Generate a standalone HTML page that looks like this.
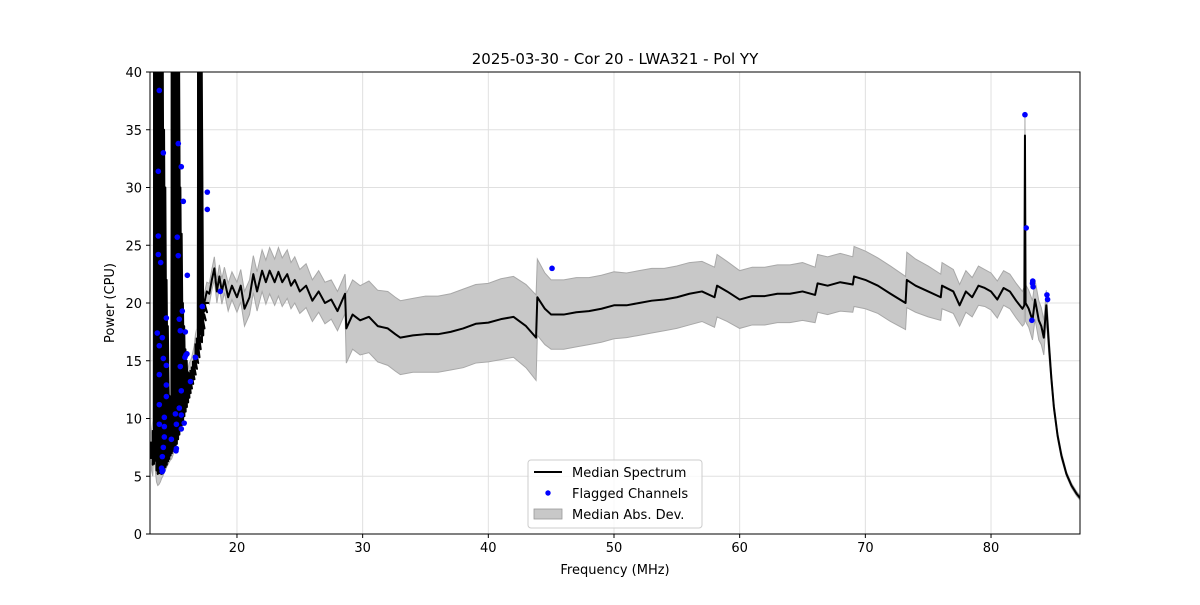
<!DOCTYPE html>
<html><head><meta charset="utf-8"><style>
body{margin:0;background:#fff;font-family:"Liberation Sans","DejaVu Sans",sans-serif;}
svg text{font-family:"DejaVu Sans","Liberation Sans",sans-serif;}
</style></head><body>
<svg id="chart" width="1200" height="600" xmlns="http://www.w3.org/2000/svg">
<rect width="1200" height="600" fill="#fff"/>
<defs><clipPath id="pc"><rect x="150" y="72" width="930" height="462"/></clipPath></defs>
<g id="grid"></g>
<g clip-path="url(#pc)"><g id="band"></g><g id="lines"></g><g id="pts"></g></g>
<rect x="150" y="72" width="930" height="462" fill="none" stroke="#000" stroke-width="1"/>
<g id="ticks"></g>
<text x="615" y="64" text-anchor="middle" font-size="15">2025-03-30 - Cor 20 - LWA321 - Pol YY</text>
<text x="615" y="574" text-anchor="middle" font-size="13">Frequency (MHz)</text>
<text x="114" y="303" text-anchor="middle" font-size="13" transform="rotate(-90 114 303)">Power (CPU)</text>
<g>
<rect x="528" y="460" width="174" height="68" rx="3" fill="#fff" fill-opacity="0.8" stroke="#ccc"/>
<line x1="534" y1="472" x2="562" y2="472" stroke="#000" stroke-width="2"/>
<text x="572" y="477" font-size="13">Median Spectrum</text>
<circle cx="548" cy="493" r="2.7" fill="#00f"/>
<text x="572" y="498" font-size="13">Flagged Channels</text>
<rect x="534" y="509" width="28" height="10" fill="#c8c8c8" stroke="#999" stroke-width="0.8"/>
<text x="572" y="519" font-size="13">Median Abs. Dev.</text>
</g>
</svg>
<script>
const spikeF=[13.2,13.3,13.4,13.5,13.6,13.7,13.8,13.9,14.0,14.1,14.2,14.3,14.4,14.5,14.6,14.7,14.8,14.9,15.0,15.1,15.2,15.3,15.4,15.5,15.6,15.7,15.8,15.9,16.0,16.1,16.2,16.3,16.4,16.5,16.6,16.7,16.8,16.9,17.0,17.1,17.2,17.3,17.4];
const spikeHi=[8,9,40,40,40,40,40,40,35,30,22,18,12,10,9,12,40,40,40,40,40,30,26,20,18,16,15,14,13.5,13.5,14,14.2,14.5,15,15.5,16.5,17,40,40,18.5,19,19.5,20];
const spikeLo=[6.5,6,9,6.5,5.5,5.2,5.3,5.5,5.8,6,6.3,6.5,6.8,7,7.2,7.4,7.5,7.8,8.2,8.6,9,9.4,9.8,10.2,10.6,11,11.4,11.8,12.2,12.6,13,13.4,13.8,14.3,14.8,15.3,16,16.6,17.2,17.8,18.5,19.2,20];
const freq=[17.4,17.6,17.8,18.0,18.2,18.4,18.6,18.8,19.0,19.3,19.6,20.0,20.3,20.6,21.0,21.3,21.6,22.0,22.3,22.6,23.0,23.3,23.6,24.0,24.3,24.6,25.0,25.5,26.0,26.5,27.0,27.5,28.0,28.6,28.7,29.2,29.8,30.5,31.2,32.0,32.6,33.0,34.0,35.0,36.0,37.0,38.0,39.0,40.0,41.0,42.0,43.0,43.8,43.9,44.5,45.0,46.0,47.0,48.0,49.0,50.0,51.0,52.0,53.0,54.0,55.0,56.0,57.0,58.0,58.2,59.0,60.0,61.0,62.0,63.0,64.0,65.0,66.0,66.2,67.0,68.0,69.0,69.1,70.0,71.0,72.0,73.2,73.3,74.0,75.0,76.0,76.1,77.0,77.5,78.0,78.5,79.0,79.5,80.0,80.5,81.0,81.5,82.0,82.5,82.65,82.7,82.75,83.0,83.3,83.5,83.8,84.0,84.2,84.4,84.6,84.8,85.0,85.3,85.6,86.0,86.4,86.8,87.1];
const median=[20,21,20.8,22,23,21,22.3,21,22,20.5,21.5,20.5,21.5,19.5,20.5,22.5,21,22.8,21.8,22.8,21.8,22.7,21.8,22.5,21.5,22,21,21.5,20.2,21,20,20.3,19.3,20.8,17.8,19,18.5,18.8,18,17.8,17.3,17,17.2,17.3,17.3,17.5,17.8,18.2,18.3,18.6,18.8,18,17,20.5,19.5,19,19,19.2,19.3,19.5,19.8,19.8,20,20.2,20.3,20.5,20.8,21,20.5,21.5,21,20.3,20.6,20.6,20.8,20.8,21,20.7,21.7,21.5,21.8,21.6,22.3,22,21.5,20.8,20,22,21.5,21,20.5,21.5,21,19.8,21,20.5,21.5,21.3,21,20.3,21.3,21,20.2,19.5,19.8,34.5,20,19.5,18.5,20.3,18.5,18,17,19.8,16.5,13.5,11,8.5,6.8,5.2,4.2,3.5,3.1];
const mad=[0.8,0.8,0.9,0.9,1,1,1,1.1,1.1,1.2,1.2,1.3,1.4,1.5,1.5,1.6,1.7,1.8,1.9,2,2,2.1,2.1,2.1,2,2,1.9,1.9,1.8,1.8,1.8,1.7,1.7,1.7,3,3,3,3.1,3.1,3.2,3.2,3.2,3.2,3.3,3.3,3.3,3.4,3.4,3.4,3.5,3.5,3.6,3.7,3.3,3.1,3,3,3,2.9,2.9,2.9,2.8,2.8,2.8,2.7,2.7,2.7,2.6,2.6,2.7,2.6,2.5,2.5,2.5,2.5,2.5,2.5,2.4,2.5,2.5,2.5,2.4,2.6,2.5,2.4,2.4,2.3,2.4,2.3,2.2,2,2,1.9,1.8,1.8,1.7,1.7,1.6,1.6,1.6,1.5,1.5,1.5,1.5,1.6,2,1.6,1.6,1.7,1.7,1.7,1.6,1.5,1.3,1,0.6,0.4,0.3,0.3,0.2,0.2,0.2,0.2];
const flagF=[13.82,14.14,13.74,13.74,13.74,13.93,14.38,13.66,14.06,13.82,14.14,14.38,13.82,14.38,14.38,13.82,14.22,13.82,14.22,14.22,14.78,14.14,14.06,14.0,14.1,14.05,15.33,15.57,15.73,15.25,15.33,16.05,15.65,15.41,15.49,15.89,15.86,15.94,16.02,16.69,15.49,16.3,15.57,15.41,15.57,15.1,15.18,15.8,15.57,15.18,15.15,17.24,17.64,17.64,18.67,45.07,82.7,82.8,83.3,83.32,83.35,83.25,84.45,84.5];
const flagV=[38.4,33.0,31.4,25.8,24.2,23.5,18.7,17.4,17.0,16.3,15.2,14.6,13.8,12.9,11.9,11.2,10.1,9.5,9.3,8.4,8.2,7.5,6.7,5.7,5.5,5.4,33.8,31.8,28.8,25.7,24.1,22.4,19.3,18.6,17.6,17.5,15.3,15.5,15.6,15.3,14.5,13.2,12.4,10.9,10.3,10.4,9.5,9.6,9.1,7.4,7.2,19.7,29.6,28.1,21.0,23.0,36.3,26.5,21.7,21.9,21.4,18.5,20.7,20.3];
const xTicks=[20,30,40,50,60,70,80];
const yTicks=[0,5,10,15,20,25,30,35,40];
const X0=13.08,X1=87.08,Y0=0,Y1=40,L=150,R=1080,T=72,B=534;
function sx(f){return L+(f-X0)/(X1-X0)*(R-L);}
function sy(v){return B-(v-Y0)/(Y1-Y0)*(B-T);}
const NS='http://www.w3.org/2000/svg';
function mk(tag,attrs,parent){const e=document.createElementNS(NS,tag);for(const k in attrs)e.setAttribute(k,attrs[k]);parent.appendChild(e);return e;}
const grid=document.getElementById('grid'),ticks=document.getElementById('ticks');
xTicks.forEach(t=>{const x=sx(t);
 const g=mk('line',{x1:x,x2:x,y1:T,y2:B,stroke:'#e0e0e0','stroke-width':1},grid);
 
 
 mk('line',{x1:x,x2:x,y1:B,y2:B+4,stroke:'#000'},ticks);
 const tx=mk('text',{x:x,y:B+18,'text-anchor':'middle','font-size':13},ticks);tx.textContent=t;
 
 });
yTicks.forEach(t=>{const y=sy(t);
 const g=mk('line',{x1:L,x2:R,y1:y,y2:y,stroke:'#e0e0e0','stroke-width':1},grid);
 
 
 mk('line',{x1:L-4,x2:L,y1:y,y2:y,stroke:'#000'},ticks);
 const tx=mk('text',{x:L-8,y:y+5,'text-anchor':'end','font-size':13},ticks);tx.textContent=t;
 
 });
// band
let up=[],dn=[];
spikeF.forEach((f,i)=>{up.push(sx(f)+','+sy(spikeHi[i]+0.8));dn.push(sx(f)+','+sy(spikeLo[i]-1));});
freq.forEach((f,i)=>{up.push(sx(f)+','+sy(median[i]+mad[i]));dn.push(sx(f)+','+sy(median[i]-mad[i]));});
const band=mk('polygon',{points:up.concat(dn.reverse()).join(' '),fill:'#c8c8c8',stroke:'#a8a8a8','stroke-width':1},document.getElementById('band'));


// median line
let d='';
spikeF.forEach((f,i)=>{const x=sx(f);d+=(i?'L':'M')+x+','+sy(spikeLo[i])+' L'+(x+2.5)+','+sy(spikeHi[i])+' L'+(x+4)+','+sy(spikeLo[i])+' ';});
freq.forEach((f,i)=>{d+='L'+sx(f)+','+sy(median[i])+' ';});
const ln=mk('path',{d:d,fill:'none',stroke:'#000','stroke-width':2,'stroke-linejoin':'round'},document.getElementById('lines'));


// spike fill
spikeF.forEach((f,i)=>{const r=mk('rect',{x:sx(f)-1,y:sy(spikeHi[i]),width:sx(0.1)-sx(0)+2,height:sy(spikeLo[i])-sy(spikeHi[i]),fill:'#000'},document.getElementById('lines'));
 
 });
flagF.forEach((f,i)=>{const c=mk('circle',{cx:sx(f),cy:sy(flagV[i]),r:2.8,fill:'#00f'},document.getElementById('pts'));
 
 });
</script>
</body></html>
